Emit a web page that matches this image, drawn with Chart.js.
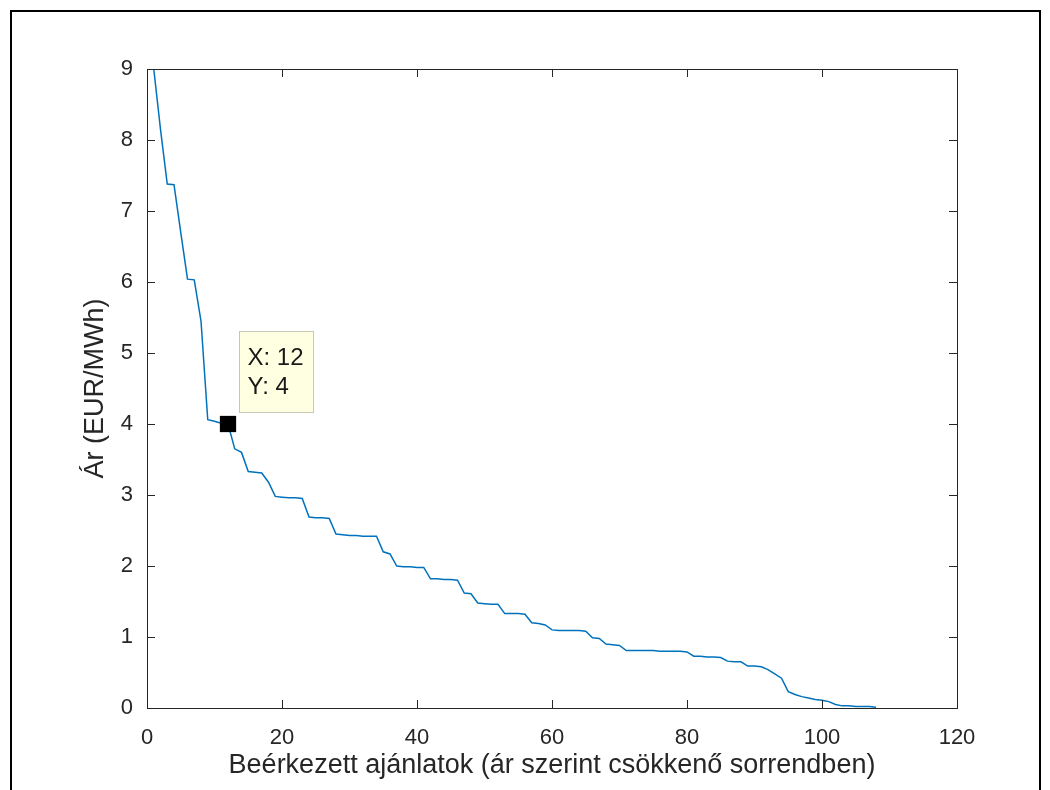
<!DOCTYPE html>
<html>
<head>
<meta charset="utf-8">
<title>Ár görbe</title>
<script src="https://cdn.jsdelivr.net/npm/chart.js@4/dist/chart.umd.min.js"></script>
<style>
  html, body { margin: 0; padding: 0; background: #fff; }
  #wrap { width: 1050px; height: 790px; position: relative; }
</style>
</head>
<body>
<div id="wrap"><canvas id="priceChart" width="1050" height="790"></canvas></div>
<script>
// Offer rank (x) and price in EUR/MWh (y)
const offerRank = [
    1, 2, 3, 4, 5, 6, 7, 8, 9, 10, 11, 12, 13, 14, 15, 16, 17, 18, 19, 20,
    21, 22, 23, 24, 25, 26, 27, 28, 29, 30, 31, 32, 33, 34, 35, 36, 37, 38, 39, 40,
    41, 42, 43, 44, 45, 46, 47, 48, 49, 50, 51, 52, 53, 54, 55, 56, 57, 58, 59, 60,
    61, 62, 63, 64, 65, 66, 67, 68, 69, 70, 71, 72, 73, 74, 75, 76, 77, 78, 79, 80,
    81, 82, 83, 84, 85, 86, 87, 88, 89, 90, 91, 92, 93, 94, 95, 96, 97, 98, 99, 100,
    101, 102, 103, 104, 105, 106, 107, 108
];
const offerPrice = [
    9.00, 8.15, 7.38, 7.37, 6.70, 6.04, 6.03, 5.45, 4.06, 4.04, 4.01, 4.00, 3.65, 3.60, 3.33, 3.32, 3.31, 3.18, 2.98, 2.97,
    2.96, 2.96, 2.95, 2.69, 2.68, 2.68, 2.67, 2.45, 2.44, 2.43, 2.43, 2.42, 2.42, 2.42, 2.20, 2.17, 2.00, 1.99, 1.99, 1.98,
    1.98, 1.82, 1.82, 1.81, 1.81, 1.80, 1.62, 1.61, 1.48, 1.47, 1.46, 1.46, 1.33, 1.33, 1.33, 1.32, 1.20, 1.19, 1.17, 1.10,
    1.09, 1.09, 1.09, 1.09, 1.08, 0.99, 0.98, 0.90, 0.89, 0.88, 0.81, 0.81, 0.81, 0.81, 0.81, 0.80, 0.80, 0.80, 0.80, 0.79,
    0.73, 0.73, 0.72, 0.72, 0.71, 0.66, 0.65, 0.65, 0.59, 0.59, 0.58, 0.54, 0.48, 0.42, 0.23, 0.19, 0.16, 0.14, 0.12, 0.11,
    0.09, 0.05, 0.03, 0.03, 0.02, 0.02, 0.02, 0.01
];

// Highlighted data tip
const tipPoint = { x: 12, y: 4 };
const tipLines = ['X: 12', 'Y: 4'];

const xTicks = [0, 20, 40, 60, 80, 100, 120];
const yTicks = [0, 1, 2, 3, 4, 5, 6, 7, 8, 9];

const AXIS_COLOR = '#262626';
const FONT = 'Arial, "Liberation Sans", Helvetica, sans-serif';

// Outer frame, axes box with inward ticks, data tip
const matlabAxes = {
    id: 'matlabAxes',
    afterDraw(chart) {
        const ctx = chart.ctx;
        const { left, right, top, bottom } = chart.chartArea;
        const xs = chart.scales.x;
        const ys = chart.scales.y;
        const tick = 8;

        ctx.save();
        // figure frame
        ctx.strokeStyle = '#000';
        ctx.lineWidth = 2;
        ctx.strokeRect(11, 11, 1029, 800);

        // axes box
        ctx.strokeStyle = AXIS_COLOR;
        ctx.lineWidth = 1;
        ctx.strokeRect(Math.round(left) + 0.5, Math.round(top) + 0.5,
            Math.round(right - left), Math.round(bottom - top));

        ctx.beginPath();
        xTicks.forEach(v => {
            const px = Math.round(xs.getPixelForValue(v)) + 0.5;
            ctx.moveTo(px, bottom);
            ctx.lineTo(px, bottom - tick);
            ctx.moveTo(px, top);
            ctx.lineTo(px, top + tick);
        });
        yTicks.forEach(v => {
            const py = Math.round(ys.getPixelForValue(v)) + 0.5;
            ctx.moveTo(left, py);
            ctx.lineTo(left + tick, py);
            ctx.moveTo(right, py);
            ctx.lineTo(right - tick, py);
        });
        ctx.stroke();

        // data tip box
        const px = xs.getPixelForValue(tipPoint.x);
        const py = ys.getPixelForValue(tipPoint.y);
        const bx = Math.round(px + 11) + 0.5;
        const by = Math.round(py - 93) + 0.5;
        ctx.fillStyle = '#ffffe1';
        ctx.fillRect(bx, by, 74, 81);
        ctx.strokeStyle = '#c8c8b4';
        ctx.strokeRect(bx, by, 74, 81);
        ctx.fillStyle = '#1a1a1a';
        ctx.font = '24px ' + FONT;
        ctx.textBaseline = 'middle';
        ctx.textAlign = 'left';
        ctx.fillText(tipLines[0], bx + 8, by + 27);
        ctx.fillText(tipLines[1], bx + 8, by + 56);
        ctx.restore();
    }
};

new Chart(document.getElementById('priceChart'), {
    type: 'line',
    data: {
        datasets: [
            {
                label: 'Tip',
                data: [tipPoint],
                showLine: false,
                pointStyle: 'rect',
                pointRadius: 11.5,
                backgroundColor: '#000',
                borderColor: '#000',
                borderWidth: 0
            },
            {
                label: 'Ár',
                data: offerRank.map((r, i) => ({ x: r, y: offerPrice[i] })),
                borderColor: '#0072BD',
                borderWidth: 1.5,
                pointRadius: 0,
                tension: 0,
                fill: false
            }
        ]
    },
    options: {
        responsive: false,
        animation: false,
        events: [],
        layout: { padding: { left: 0, right: 93, top: 69, bottom: 0 } },
        plugins: {
            legend: { display: false },
            tooltip: { enabled: false }
        },
        scales: {
            x: {
                type: 'linear',
                min: 0,
                max: 120,
                afterBuildTicks: s => { s.ticks = xTicks.map(v => ({ value: v })); },
                afterFit: s => { s.height = 82; },
                grid: { display: false, drawTicks: false },
                border: { display: false },
                ticks: {
                    color: AXIS_COLOR,
                    font: { family: FONT, size: 22 },
                    padding: 17,
                    maxRotation: 0
                },
                title: {
                    display: true,
                    text: 'Beérkezett ajánlatok (ár szerint csökkenő sorrendben)',
                    color: AXIS_COLOR,
                    font: { family: FONT, size: 27 },
                    padding: { top: 0, bottom: 8 }
                }
            },
            y: {
                type: 'linear',
                min: 0,
                max: 9,
                afterBuildTicks: s => { s.ticks = yTicks.map(v => ({ value: v })); },
                afterFit: s => { s.width = 147; },
                grid: { display: false, drawTicks: false },
                border: { display: false },
                ticks: {
                    color: AXIS_COLOR,
                    font: { family: FONT, size: 22 },
                    padding: 14
                },
                title: {
                    display: true,
                    text: 'Ár (EUR/MWh)',
                    color: AXIS_COLOR,
                    font: { family: FONT, size: 27 },
                    padding: { top: 79, bottom: 0 }
                }
            }
        }
    },
    plugins: [matlabAxes]
});
</script>
</body>
</html>
